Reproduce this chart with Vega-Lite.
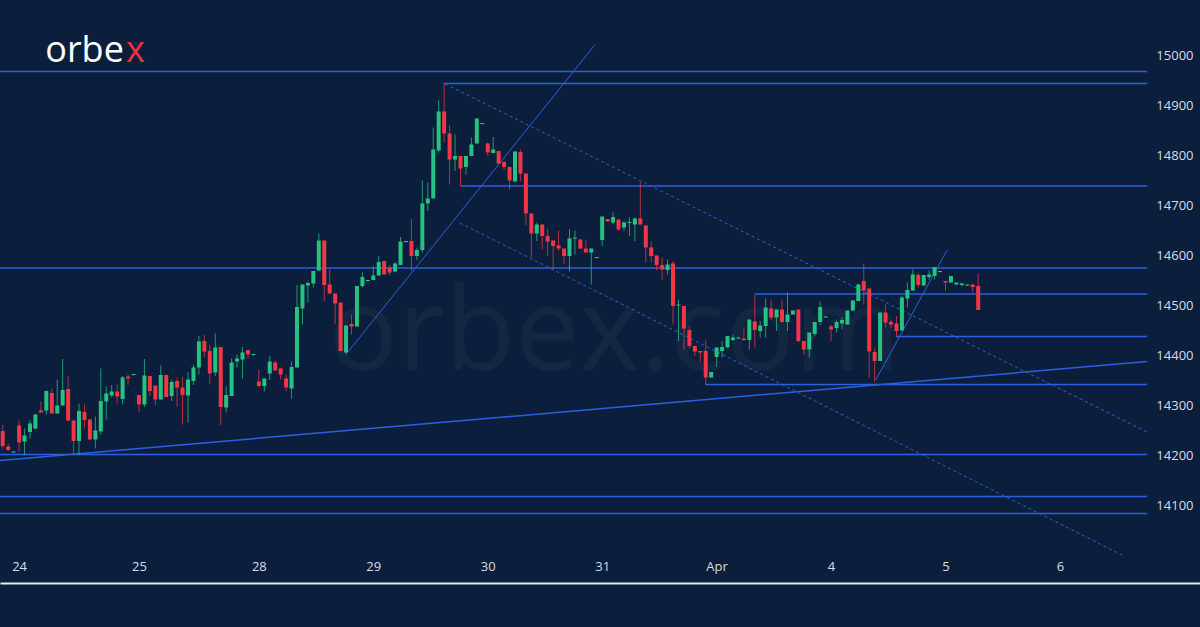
{
 "$schema": "https://vega.github.io/schema/vega-lite/v6.json",
 "width": 1200, "height": 583,
 "autosize": {"type": "none"},
 "padding": {"left": 0, "top": 0, "right": 0, "bottom": 44},
 "background": "#0b1f3c",
 "config": {"view": {"stroke": null}, "axis": {"grid": false, "ticks": false, "title": null}, "scale": {"continuousPadding": 0}},
 "datasets": {
  "candles": [
{"k":0,"o":14248,"h":14260,"l":14213,"c":14218},{"k":1,"o":14217,"h":14223,"l":14208,"c":14210},{"k":2,"o":14205,"h":14207,"l":14204,"c":14207},{"k":3,"o":14259,"h":14269,"l":14207,"c":14225},{"k":4,"o":14227,"h":14253,"l":14200,"c":14239},{"k":5,"o":14246,"h":14269,"l":14233,"c":14263},{"k":6,"o":14253,"h":14282,"l":14252,"c":14281},{"k":7,"o":14289,"h":14307,"l":14284,"c":14285},{"k":8,"o":14289,"h":14329,"l":14281,"c":14328},{"k":9,"o":14324,"h":14333,"l":14283,"c":14283},
{"k":10,"o":14283,"h":14351,"l":14283,"c":14299},{"k":11,"o":14299,"h":14392,"l":14299,"c":14330},{"k":12,"o":14332,"h":14358,"l":14267,"c":14269},{"k":13,"o":14269,"h":14269,"l":14200,"c":14228},{"k":14,"o":14228,"h":14303,"l":14200,"c":14288},{"k":15,"o":14286,"h":14301,"l":14253,"c":14270},{"k":16,"o":14271,"h":14272,"l":14230,"c":14231},{"k":17,"o":14231,"h":14277,"l":14213,"c":14249},{"k":18,"o":14247,"h":14373,"l":14241,"c":14308},{"k":19,"o":14307,"h":14337,"l":14271,"c":14323},
{"k":20,"o":14319,"h":14340,"l":14315,"c":14327},{"k":21,"o":14327,"h":14341,"l":14303,"c":14317},{"k":22,"o":14312,"h":14358,"l":14301,"c":14355},{"k":23,"o":14357,"h":14361,"l":14340,"c":14353},{"k":24,"o":14360,"h":14362,"l":14359,"c":14362},{"k":25,"o":14320,"h":14320,"l":14286,"c":14301},{"k":26,"o":14301,"h":14392,"l":14296,"c":14359},{"k":27,"o":14358,"h":14358,"l":14318,"c":14328},{"k":28,"o":14339,"h":14339,"l":14300,"c":14311},{"k":29,"o":14311,"h":14379,"l":14311,"c":14360},
{"k":30,"o":14360,"h":14360,"l":14316,"c":14316},{"k":31,"o":14318,"h":14351,"l":14308,"c":14346},{"k":32,"o":14348,"h":14355,"l":14296,"c":14335},{"k":33,"o":14335,"h":14356,"l":14261,"c":14320},{"k":34,"o":14319,"h":14365,"l":14265,"c":14351},{"k":35,"o":14348,"h":14381,"l":14340,"c":14375},{"k":36,"o":14375,"h":14438,"l":14361,"c":14427},{"k":37,"o":14428,"h":14440,"l":14396,"c":14407},{"k":38,"o":14408,"h":14421,"l":14341,"c":14363},{"k":39,"o":14365,"h":14443,"l":14358,"c":14415},
{"k":40,"o":14416,"h":14416,"l":14260,"c":14296},{"k":41,"o":14295,"h":14337,"l":14285,"c":14320},{"k":42,"o":14318,"h":14393,"l":14318,"c":14385},{"k":43,"o":14387,"h":14401,"l":14375,"c":14393},{"k":44,"o":14391,"h":14416,"l":14353,"c":14405},{"k":45,"o":14410,"h":14410,"l":14393,"c":14401},{"k":46,"o":14400,"h":14402,"l":14399,"c":14402},{"k":47,"o":14347,"h":14371,"l":14335,"c":14338},{"k":48,"o":14338,"h":14353,"l":14327,"c":14353},{"k":49,"o":14363,"h":14398,"l":14350,"c":14387},
{"k":50,"o":14385,"h":14389,"l":14368,"c":14369},{"k":51,"o":14373,"h":14375,"l":14351,"c":14361},{"k":52,"o":14353,"h":14361,"l":14328,"c":14335},{"k":53,"o":14333,"h":14387,"l":14313,"c":14376},{"k":54,"o":14375,"h":14540,"l":14375,"c":14496},{"k":55,"o":14493,"h":14541,"l":14461,"c":14541},{"k":56,"o":14539,"h":14547,"l":14505,"c":14544},{"k":57,"o":14543,"h":14568,"l":14535,"c":14568},{"k":58,"o":14569,"h":14643,"l":14569,"c":14629},{"k":59,"o":14629,"h":14629,"l":14508,"c":14540},
{"k":60,"o":14541,"h":14571,"l":14523,"c":14523},{"k":61,"o":14523,"h":14523,"l":14461,"c":14503},{"k":62,"o":14505,"h":14505,"l":14407,"c":14408},{"k":63,"o":14405,"h":14459,"l":14401,"c":14459},{"k":64,"o":14462,"h":14481,"l":14441,"c":14457},{"k":65,"o":14457,"h":14538,"l":14457,"c":14538},{"k":66,"o":14538,"h":14565,"l":14535,"c":14556},{"k":67,"o":14548,"h":14550,"l":14547,"c":14550},{"k":68,"o":14550,"h":14578,"l":14550,"c":14559},{"k":69,"o":14559,"h":14598,"l":14559,"c":14586},
{"k":70,"o":14588,"h":14588,"l":14561,"c":14561},{"k":71,"o":14575,"h":14580,"l":14560,"c":14565},{"k":72,"o":14567,"h":14585,"l":14565,"c":14583},{"k":73,"o":14580,"h":14636,"l":14580,"c":14627},{"k":74,"o":14626,"h":14628,"l":14625,"c":14628},{"k":75,"o":14628,"h":14672,"l":14568,"c":14598},{"k":76,"o":14598,"h":14615,"l":14590,"c":14610},{"k":77,"o":14610,"h":14749,"l":14605,"c":14703},{"k":78,"o":14703,"h":14745,"l":14688,"c":14713},{"k":79,"o":14713,"h":14855,"l":14713,"c":14811},
{"k":80,"o":14809,"h":14909,"l":14805,"c":14887},{"k":81,"o":14887,"h":14945,"l":14825,"c":14843},{"k":82,"o":14843,"h":14860,"l":14741,"c":14791},{"k":83,"o":14791,"h":14841,"l":14768,"c":14798},{"k":84,"o":14798,"h":14798,"l":14738,"c":14773},{"k":85,"o":14776,"h":14798,"l":14761,"c":14798},{"k":86,"o":14798,"h":14835,"l":14798,"c":14821},{"k":87,"o":14823,"h":14873,"l":14823,"c":14873},{"k":88,"o":14862,"h":14864,"l":14861,"c":14864},{"k":89,"o":14823,"h":14825,"l":14798,"c":14805},
{"k":90,"o":14804,"h":14836,"l":14803,"c":14811},{"k":91,"o":14808,"h":14808,"l":14781,"c":14783},{"k":92,"o":14786,"h":14788,"l":14770,"c":14776},{"k":93,"o":14776,"h":14776,"l":14731,"c":14749},{"k":94,"o":14747,"h":14807,"l":14747,"c":14807},{"k":95,"o":14806,"h":14811,"l":14748,"c":14763},{"k":96,"o":14763,"h":14763,"l":14660,"c":14683},{"k":97,"o":14683,"h":14683,"l":14596,"c":14643},{"k":98,"o":14643,"h":14665,"l":14628,"c":14661},{"k":99,"o":14661,"h":14661,"l":14611,"c":14638},
{"k":100,"o":14638,"h":14653,"l":14598,"c":14627},{"k":101,"o":14629,"h":14629,"l":14571,"c":14618},{"k":102,"o":14619,"h":14649,"l":14608,"c":14613},{"k":103,"o":14613,"h":14613,"l":14581,"c":14598},{"k":104,"o":14598,"h":14651,"l":14567,"c":14633},{"k":105,"o":14633,"h":14649,"l":14601,"c":14635},{"k":106,"o":14631,"h":14631,"l":14612,"c":14613},{"k":107,"o":14613,"h":14631,"l":14605,"c":14605},{"k":108,"o":14605,"h":14613,"l":14541,"c":14613},{"k":109,"o":14594,"h":14596,"l":14593,"c":14596},
{"k":110,"o":14630,"h":14677,"l":14618,"c":14677},{"k":111,"o":14672,"h":14672,"l":14667,"c":14667},{"k":112,"o":14665,"h":14685,"l":14661,"c":14676},{"k":113,"o":14671,"h":14671,"l":14648,"c":14651},{"k":114,"o":14655,"h":14668,"l":14648,"c":14665},{"k":115,"o":14664,"h":14675,"l":14638,"c":14666},{"k":116,"o":14661,"h":14675,"l":14628,"c":14673},{"k":117,"o":14673,"h":14746,"l":14661,"c":14661},{"k":118,"o":14659,"h":14659,"l":14585,"c":14615},{"k":119,"o":14615,"h":14628,"l":14585,"c":14598},
{"k":120,"o":14599,"h":14599,"l":14569,"c":14580},{"k":121,"o":14580,"h":14595,"l":14551,"c":14571},{"k":122,"o":14570,"h":14591,"l":14561,"c":14581},{"k":123,"o":14583,"h":14588,"l":14461,"c":14498},{"k":124,"o":14499,"h":14511,"l":14428,"c":14501},{"k":125,"o":14498,"h":14498,"l":14411,"c":14453},{"k":126,"o":14450,"h":14458,"l":14413,"c":14418},{"k":127,"o":14418,"h":14418,"l":14398,"c":14407},{"k":128,"o":14408,"h":14408,"l":14385,"c":14405},{"k":129,"o":14408,"h":14431,"l":14340,"c":14355},
{"k":130,"o":14355,"h":14366,"l":14355,"c":14366},{"k":131,"o":14396,"h":14415,"l":14376,"c":14415},{"k":132,"o":14408,"h":14428,"l":14395,"c":14416},{"k":133,"o":14415,"h":14438,"l":14415,"c":14438},{"k":134,"o":14430,"h":14441,"l":14428,"c":14435},{"k":135,"o":14433,"h":14436,"l":14432,"c":14435},{"k":136,"o":14433,"h":14456,"l":14428,"c":14430},{"k":137,"o":14430,"h":14471,"l":14411,"c":14471},{"k":138,"o":14467,"h":14520,"l":14415,"c":14450},{"k":139,"o":14448,"h":14468,"l":14435,"c":14459},
{"k":140,"o":14458,"h":14513,"l":14435,"c":14495},{"k":141,"o":14493,"h":14511,"l":14469,"c":14475},{"k":142,"o":14475,"h":14491,"l":14448,"c":14491},{"k":143,"o":14491,"h":14511,"l":14465,"c":14466},{"k":144,"o":14466,"h":14525,"l":14448,"c":14481},{"k":145,"o":14481,"h":14489,"l":14481,"c":14489},{"k":146,"o":14491,"h":14491,"l":14426,"c":14428},{"k":147,"o":14428,"h":14428,"l":14401,"c":14411},{"k":148,"o":14411,"h":14445,"l":14395,"c":14445},{"k":149,"o":14442,"h":14466,"l":14437,"c":14466},
{"k":150,"o":14466,"h":14507,"l":14460,"c":14496},{"k":151,"o":14475,"h":14477,"l":14474,"c":14477},{"k":152,"o":14457,"h":14460,"l":14428,"c":14451},{"k":153,"o":14454,"h":14471,"l":14445,"c":14466},{"k":154,"o":14463,"h":14476,"l":14451,"c":14470},{"k":155,"o":14461,"h":14489,"l":14461,"c":14489},{"k":156,"o":14489,"h":14509,"l":14487,"c":14509},{"k":157,"o":14508,"h":14543,"l":14508,"c":14541},{"k":158,"o":14548,"h":14583,"l":14501,"c":14529},{"k":159,"o":14533,"h":14533,"l":14355,"c":14407},
{"k":160,"o":14406,"h":14415,"l":14346,"c":14388},{"k":161,"o":14388,"h":14485,"l":14388,"c":14485},{"k":162,"o":14485,"h":14501,"l":14455,"c":14465},{"k":163,"o":14466,"h":14470,"l":14454,"c":14461},{"k":164,"o":14463,"h":14478,"l":14436,"c":14448},{"k":165,"o":14449,"h":14518,"l":14449,"c":14515},{"k":166,"o":14513,"h":14545,"l":14495,"c":14530},{"k":167,"o":14529,"h":14571,"l":14529,"c":14561},{"k":168,"o":14560,"h":14565,"l":14535,"c":14540},{"k":169,"o":14539,"h":14560,"l":14539,"c":14560},
{"k":170,"o":14556,"h":14569,"l":14551,"c":14561},{"k":171,"o":14558,"h":14576,"l":14551,"c":14576},{"k":172,"o":14566,"h":14568,"l":14565,"c":14568},{"k":173,"o":14548,"h":14548,"l":14528,"c":14545},{"k":174,"o":14545,"h":14558,"l":14545,"c":14558},{"k":175,"o":14541,"h":14545,"l":14540,"c":14545},{"k":176,"o":14540,"h":14544,"l":14537,"c":14543},{"k":177,"o":14539,"h":14541,"l":14538,"c":14541},{"k":178,"o":14541,"h":14541,"l":14525,"c":14536},{"k":179,"o":14538,"h":14563,"l":14490,"c":14490}
  ],
  "levels": [
   {"k":-0.5,"k2":210,"p":14967,"p2":14967},
   {"k":81,"k2":210,"p":14943,"p2":14943},
   {"k":84,"k2":210,"p":14738,"p2":14738},
   {"k":-0.5,"k2":210,"p":14574,"p2":14574},
   {"k":138,"k2":210,"p":14522,"p2":14522},
   {"k":164,"k2":210,"p":14437,"p2":14437},
   {"k":129,"k2":210,"p":14341,"p2":14341},
   {"k":-0.5,"k2":210,"p":14201,"p2":14201},
   {"k":-0.5,"k2":210,"p":14117,"p2":14117},
   {"k":-0.5,"k2":210,"p":14083,"p2":14083},
   {"k":-0.5,"k2":210,"p":14189,"p2":14387}
  ],
  "trends": [
   {"k":63.2,"k2":108.7,"p":14404,"p2":15021},
   {"k":160.2,"k2":173.3,"p":14350,"p2":14610}
  ],
  "channel": [
   {"k":81.2,"k2":210,"p":14942,"p2":14246},
   {"k":83.9,"k2":205.4,"p":14664,"p2":14000}
  ]
 },
 "layer": [
  {
   "data": {"values": [{"t": "orbex.com", "k": 112.3, "p": 14440}]},
   "mark": {"type": "text", "font": "Open Sans", "fontSize": 115, "color": "#ffffff", "opacity": 0.03, "align": "center", "baseline": "middle"},
   "encoding": {
    "x": {"field": "k", "type": "quantitative", "scale": {"domain": [-0.5, 219.7], "padding": 0, "nice": false, "zero": false},
     "axis": {"values": [3,25,47,68,89,110,131,152,173,194],
      "labelExpr": "['24','25','28','29','30','31','Apr','4','5','6'][indexof([3,25,47,68,89,110,131,152,173,194], datum.value)]",
      "title": null, "grid": false, "ticks": false, "domain": true, "domainColor": "#e8eaee", "domainWidth": 2,
      "labelColor": "#d9dce3", "labelFontSize": 13, "labelFont": "Open Sans", "labelPadding": -17, "labelBaseline": "middle",
      "labelFlush": false, "labelOverlap": false}},
    "y": {"field": "p", "type": "quantitative", "scale": {"domain": [13944, 15110], "padding": 0, "nice": false, "zero": false},
     "axis": {"orient": "right", "values": [14100,14200,14300,14400,14500,14600,14700,14800,14900,15000], "format": "d",
      "title": null, "grid": false, "ticks": false, "domain": false, "labelColor": "#d9dce3", "labelFontSize": 13,
      "labelFont": "Open Sans", "labelPadding": -7, "labelAlign": "right"}},
    "text": {"field": "t"}
   }
  },
  {
   "data": {"name": "levels"},
   "mark": {"type": "rule", "color": "#2c5fe0", "strokeWidth": 1.5},
   "encoding": {
    "x": {"field": "k", "type": "quantitative", "scale": {"domain": [-0.5, 219.7], "padding": 0, "nice": false, "zero": false}, "axis": {"title": null}},
    "x2": {"field": "k2"},
    "y": {"field": "p", "type": "quantitative", "scale": {"domain": [13944, 15110], "padding": 0, "nice": false, "zero": false}, "axis": {"title": null}},
    "y2": {"field": "p2"}
   }
  },
  {
   "data": {"name": "trends"},
   "mark": {"type": "rule", "color": "#2c5fe0", "strokeWidth": 1},
   "encoding": {
    "x": {"field": "k", "type": "quantitative", "scale": {"domain": [-0.5, 219.7], "padding": 0, "nice": false, "zero": false}, "axis": {"title": null}},
    "x2": {"field": "k2"},
    "y": {"field": "p", "type": "quantitative", "scale": {"domain": [13944, 15110], "padding": 0, "nice": false, "zero": false}, "axis": {"title": null}},
    "y2": {"field": "p2"}
   }
  },
  {
   "data": {"name": "channel"},
   "mark": {"type": "rule", "color": "#2c5fe0", "strokeWidth": 1, "strokeDash": [3, 3]},
   "encoding": {
    "x": {"field": "k", "type": "quantitative", "scale": {"domain": [-0.5, 219.7], "padding": 0, "nice": false, "zero": false}, "axis": {"title": null}},
    "x2": {"field": "k2"},
    "y": {"field": "p", "type": "quantitative", "scale": {"domain": [13944, 15110], "padding": 0, "nice": false, "zero": false}, "axis": {"title": null}},
    "y2": {"field": "p2"}
   }
  },
  {
   "data": {"name": "candles"},
   "mark": {"type": "rule", "strokeWidth": 1, "opacity": 0.75},
   "encoding": {
    "x": {"field": "k", "type": "quantitative", "scale": {"domain": [-0.5, 219.7], "padding": 0, "nice": false, "zero": false}, "axis": {"title": null}},
    "y": {"field": "l", "type": "quantitative", "scale": {"domain": [13944, 15110], "padding": 0, "nice": false, "zero": false}, "axis": {"title": null}},
    "y2": {"field": "h"},
    "color": {"condition": {"test": "datum.c >= datum.o", "value": "#26c281"}, "value": "#f23645"}
   }
  },
  {
   "data": {"name": "candles"},
   "mark": {"type": "bar", "size": 4},
   "encoding": {
    "x": {"field": "k", "type": "quantitative", "scale": {"domain": [-0.5, 219.7], "padding": 0, "nice": false, "zero": false}, "axis": {"title": null}},
    "y": {"field": "o", "type": "quantitative", "scale": {"domain": [13944, 15110], "padding": 0, "nice": false, "zero": false}, "axis": {"title": null}},
    "y2": {"field": "c"},
    "color": {"condition": {"test": "datum.c >= datum.o", "value": "#26c281"}, "value": "#f23645"}
   }
  },
  {
   "data": {"values": [{"t": "orbe", "k": 7.8, "p": 14986}]},
   "mark": {"type": "text", "font": "Open Sans", "fontSize": 36, "color": "#ffffff", "align": "left", "baseline": "alphabetic"},
   "encoding": {
    "x": {"field": "k", "type": "quantitative", "scale": {"domain": [-0.5, 219.7], "padding": 0, "nice": false, "zero": false}, "axis": {"title": null}},
    "y": {"field": "p", "type": "quantitative", "scale": {"domain": [13944, 15110], "padding": 0, "nice": false, "zero": false}, "axis": {"title": null}},
    "text": {"field": "t"}
   }
  },
  {
   "data": {"values": [{"t": "x", "k": 22.6, "p": 14986}]},
   "mark": {"type": "text", "font": "Open Sans", "fontSize": 36, "color": "#ea3340", "align": "left", "baseline": "alphabetic"},
   "encoding": {
    "x": {"field": "k", "type": "quantitative", "scale": {"domain": [-0.5, 219.7], "padding": 0, "nice": false, "zero": false}, "axis": {"title": null}},
    "y": {"field": "p", "type": "quantitative", "scale": {"domain": [13944, 15110], "padding": 0, "nice": false, "zero": false}, "axis": {"title": null}},
    "text": {"field": "t"}
   }
  }
 ]
}
